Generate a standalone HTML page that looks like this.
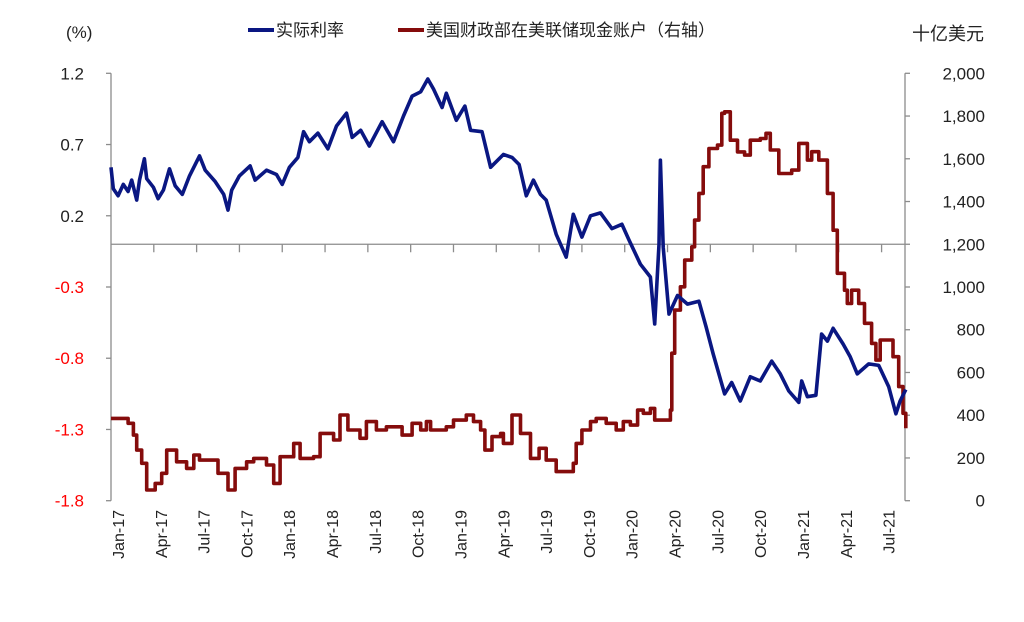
<!DOCTYPE html>
<html><head><meta charset="utf-8"><style>
body{margin:0;background:#fff;}
svg text{font-family:"Liberation Sans","Noto Sans CJK SC",sans-serif;}
</style></head><body>
<svg width="1024" height="617" viewBox="0 0 1024 617">
<g id="axes"></g><g id="series"></g><g id="legend"></g>
</svg>
<script>
const quarterLabels=["Jan-17","Apr-17","Jul-17","Oct-17","Jan-18","Apr-18","Jul-18","Oct-18","Jan-19","Apr-19","Jul-19","Oct-19","Jan-20","Apr-20","Jul-20","Oct-20","Jan-21","Apr-21","Jul-21"];
const leftTicks=[1.2,0.7,0.2,-0.3,-0.8,-1.3,-1.8];
const rightTicks=[2000,1800,1600,1400,1200,1000,800,600,400,200,0];
const realMonths=[0,0.16,0.5,0.86,1.2,1.45,1.8,2.0,2.34,2.5,2.97,3.3,3.67,4.1,4.5,5.0,5.5,6.2,6.6,7.3,7.9,8.2,8.46,9.0,9.75,10.1,10.9,11.6,12.0,12.5,13.1,13.5,13.9,14.5,15.2,15.8,16.5,16.9,17.5,18.1,19.0,19.8,20.5,21.1,21.7,22.2,22.6,23.2,23.5,24.2,24.8,25.2,26.0,26.6,27.5,28.1,28.6,29.1,29.6,30.1,30.5,31.2,31.9,32.4,33.0,33.6,34.3,35.1,35.8,36.3,37.1,37.8,38.1,38.4,38.5,38.7,39.1,39.7,40.4,41.2,41.7,42.2,43.0,43.5,44.1,44.8,45.5,46.3,46.9,47.5,48.2,48.4,48.8,49.4,49.8,50.2,50.6,51.3,51.8,52.3,53.1,53.8,54.5,55.0,55.3,55.7];
const realRate=[0.54,0.39,0.34,0.42,0.37,0.45,0.31,0.45,0.6,0.46,0.4,0.32,0.38,0.53,0.41,0.35,0.48,0.62,0.52,0.44,0.35,0.24,0.38,0.48,0.55,0.45,0.52,0.49,0.42,0.54,0.61,0.79,0.72,0.78,0.67,0.83,0.92,0.75,0.8,0.69,0.86,0.72,0.9,1.04,1.07,1.16,1.09,0.96,1.06,0.87,0.97,0.8,0.79,0.54,0.63,0.61,0.56,0.34,0.45,0.35,0.31,0.07,-0.09,0.21,0.05,0.2,0.22,0.11,0.14,0.03,-0.14,-0.23,-0.56,0.0,0.59,-0.02,-0.49,-0.36,-0.42,-0.4,-0.58,-0.77,-1.05,-0.97,-1.1,-0.93,-0.96,-0.82,-0.91,-1.03,-1.11,-0.96,-1.07,-1.06,-0.63,-0.68,-0.59,-0.7,-0.79,-0.91,-0.84,-0.85,-1.0,-1.19,-1.1,-1.02];
const tgaMonths=[0,0.86,1.2,1.57,1.8,2.15,2.5,3.1,3.55,3.9,4.25,4.6,5.3,5.8,6.2,6.9,7.5,8.2,8.7,9.5,10.0,10.9,11.4,11.85,12.8,13.25,14.2,14.65,15.6,16.05,16.6,17.45,17.9,18.6,19.3,20.4,21.1,21.7,22.1,22.4,23.5,24.0,24.9,25.4,25.9,26.2,26.7,27.3,27.5,28.1,28.7,29.4,30.0,30.5,31.2,31.9,32.4,32.6,33.0,33.6,34.0,34.7,35.4,35.9,36.4,36.9,37.3,37.8,38.1,38.8,39.2,39.3,39.5,39.9,40.2,40.7,40.9,41.2,41.5,41.9,42.5,42.8,43.0,43.4,43.9,44.4,44.8,45.5,45.9,46.2,46.8,47.7,48.2,48.8,49.1,49.6,50.2,50.6,50.9,51.4,51.6,51.9,52.4,52.8,53.3,53.6,53.9,54.4,54.8,55.2,55.5,55.7];
const tgaBalance=[385,385,362,307,237,175,50,81,128,237,237,182,151,214,190,190,128,50,151,182,198,167,81,206,268,198,206,315,284,401,331,292,370,331,346,307,362,331,370,331,346,377,401,370,331,237,300,315,268,401,315,198,245,190,136,136,175,268,331,370,385,362,331,370,354,424,409,432,377,377,424,690,892,1001,1126,1188,1313,1438,1563,1648,1664,1813,1820,1687,1632,1617,1687,1695,1719,1641,1531,1547,1672,1594,1633,1594,1438,1266,1064,985,923,985,923,830,736,658,752,752,674,534,409,339];

const NS="http://www.w3.org/2000/svg";
const X0=111,MW=14.27,XEND=905,YT=73.3,YB=500.7;
const xm=m=>X0+m*MW;
const yl=v=>YT+(1.2-v)*(YB-YT)/3.0;
const yr=v=>YB-v*(YB-YT)/2000;
function mk(tag,attrs,parent,text){const e=document.createElementNS(NS,tag);for(const k in attrs)e.setAttribute(k,attrs[k]);if(text!==undefined)e.textContent=text;parent.appendChild(e);return e;}
const axes=document.getElementById('axes'),series=document.getElementById('series'),legend=document.getElementById('legend');
const G="#8c8c8c";
let e;
e=mk('line',{x1:X0,y1:YT,x2:X0,y2:YB,stroke:G,'stroke-width':1.3},axes);


e=mk('line',{x1:XEND,y1:YT,x2:XEND,y2:YB,stroke:G,'stroke-width':1.3},axes);


e=mk('line',{x1:X0,y1:yl(0),x2:XEND,y2:yl(0),stroke:G,'stroke-width':1.3},axes);


leftTicks.forEach(v=>{
  mk('line',{x1:X0-5,y1:yl(v),x2:X0,y2:yl(v),stroke:G,'stroke-width':1.3},axes);
  e=mk('text',{x:84,y:yl(v)+6,'text-anchor':'end','font-size':17,fill:v<0?'#ff0000':'#222'},axes,v.toFixed(1));
  
  
});
rightTicks.forEach(v=>{
  mk('line',{x1:XEND,y1:yr(v),x2:XEND+5,y2:yr(v),stroke:G,'stroke-width':1.3},axes);
  e=mk('text',{x:985,y:yr(v)+6,'text-anchor':'end','font-size':17,fill:'#222'},axes,v.toLocaleString('en-US'));
  
  
});
quarterLabels.forEach((l,i)=>{
  const x=xm(i*3);
  if(i>0)mk('line',{x1:x,y1:yl(0),x2:x,y2:yl(0)+8,stroke:G,'stroke-width':1.3},axes);
  e=mk('text',{x:0,y:0,'text-anchor':'end','font-size':16,fill:'#222',transform:`translate(${x+13},510) rotate(-90)`},axes,l);
  
  
});
e=mk('text',{x:66,y:38,'font-size':17,fill:'#222'},axes,'(%)');


e=mk('text',{x:984,y:40,'text-anchor':'end','font-size':18,fill:'#222'},axes,'十亿美元');


function path(ms,vs,yf){return ms.map((m,i)=>(i?'L':'M')+xm(m).toFixed(1)+','+yf(vs[i]).toFixed(1)).join('');}
function stepPath(ms,vs,yf){return ms.map((m,i)=>i?('H'+xm(m).toFixed(1)+'V'+yf(vs[i]).toFixed(1)):('M'+xm(m).toFixed(1)+','+yf(vs[i]).toFixed(1))).join('');}
e=mk('path',{d:stepPath(tgaMonths,tgaBalance,yr),fill:'none',stroke:'#850c0c','stroke-width':3.6,'stroke-linejoin':'round'},series);


e=mk('path',{d:path(realMonths,realRate,yl),fill:'none',stroke:'#0a1782','stroke-width':3.6,'stroke-linejoin':'round'},series);


e=mk('line',{x1:248,y1:30,x2:274,y2:30,stroke:'#0a1782','stroke-width':4},legend);


e=mk('text',{x:276,y:36,'font-size':17,fill:'#222'},legend,'实际利率');


e=mk('line',{x1:398,y1:30,x2:424,y2:30,stroke:'#850c0c','stroke-width':4},legend);


e=mk('text',{x:426,y:36,'font-size':17,fill:'#222'},legend,'美国财政部在美联储现金账户（右轴）');


</script>
</body></html>
